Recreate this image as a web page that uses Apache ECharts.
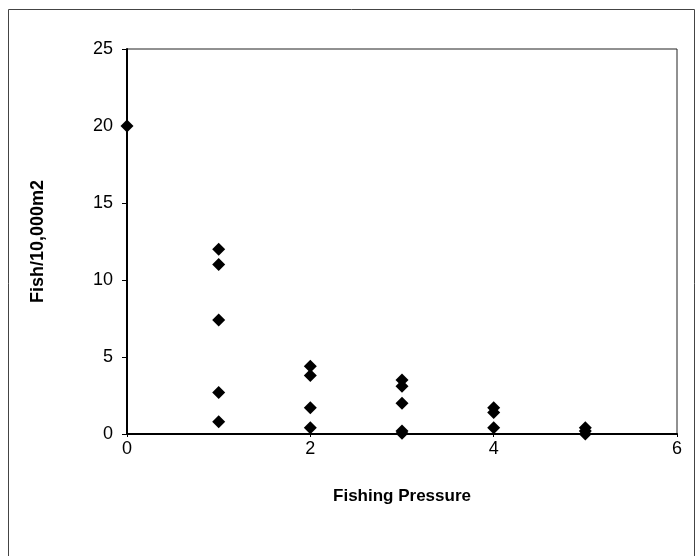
<!DOCTYPE html>
<html><head><meta charset="utf-8">
<script src="https://cdn.jsdelivr.net/npm/echarts@6/dist/echarts.min.js"></script>
<style>html,body{margin:0;padding:0;background:#fff}#c{width:696px;height:556px}</style>
</head><body><div id="c"></div>
<script>
const pressure = [0, 1, 1, 1, 1, 1, 2, 2, 2, 2, 3, 3, 3, 3, 3, 4, 4, 4, 5, 5, 5];
const fish = [20, 12, 11, 7.4, 2.7, 0.8, 4.4, 3.8, 1.7, 0.4, 3.5, 3.1, 2.0, 0.2, 0.05, 1.7, 1.4, 0.4, 0.4, 0.2, 0.0];
const xTicks = [0, 2, 4, 6];
const yTicks = [0, 5, 10, 15, 20, 25];
const points = pressure.map((p, i) => [p, fish[i]]);
const chart = echarts.init(document.getElementById('c'));
const font = 'Liberation Sans, Arial, sans-serif';
chart.setOption({
  animation: false,
  backgroundColor: '#fff',
  graphic: [{type: 'rect', shape: {x: 8.5, y: 9.5, width: 686, height: 560}, style: {fill: 'none', stroke: '#444', lineWidth: 1}}],
  grid: {left: 127, right: 19, top: 49, bottom: 122, show: true, borderColor: '#222', borderWidth: 1},
  xAxis: {
    type: 'value', min: 0, max: 6, interval: 2,
    name: 'Fishing Pressure', nameLocation: 'middle', nameGap: 54,
    nameTextStyle: {fontFamily: font, fontSize: 17, fontWeight: 'bold', color: '#000'},
    axisLine: {show: true, lineStyle: {color: '#000', width: 2}},
    axisTick: {show: true, inside: false, length: 3, lineStyle: {color: '#000'}},
    axisLabel: {fontFamily: font, fontSize: 18, color: '#000', margin: 6},
    splitLine: {show: false}
  },
  yAxis: {
    type: 'value', min: 0, max: 25, interval: 5,
    name: 'Fish/10,000m2', nameLocation: 'middle', nameGap: 80,
    nameTextStyle: {fontFamily: font, fontSize: 18, fontWeight: 'bold', color: '#000'},
    axisLine: {show: true, lineStyle: {color: '#000', width: 2}},
    axisTick: {show: true, inside: false, length: 5, lineStyle: {color: '#000'}},
    axisLabel: {fontFamily: font, fontSize: 18, color: '#000', margin: 14},
    splitLine: {show: false}
  },
  series: [{
    type: 'scatter', data: points, symbol: 'diamond', symbolSize: 13,
    itemStyle: {color: '#000', opacity: 1}
  }]
});
</script></body></html>
